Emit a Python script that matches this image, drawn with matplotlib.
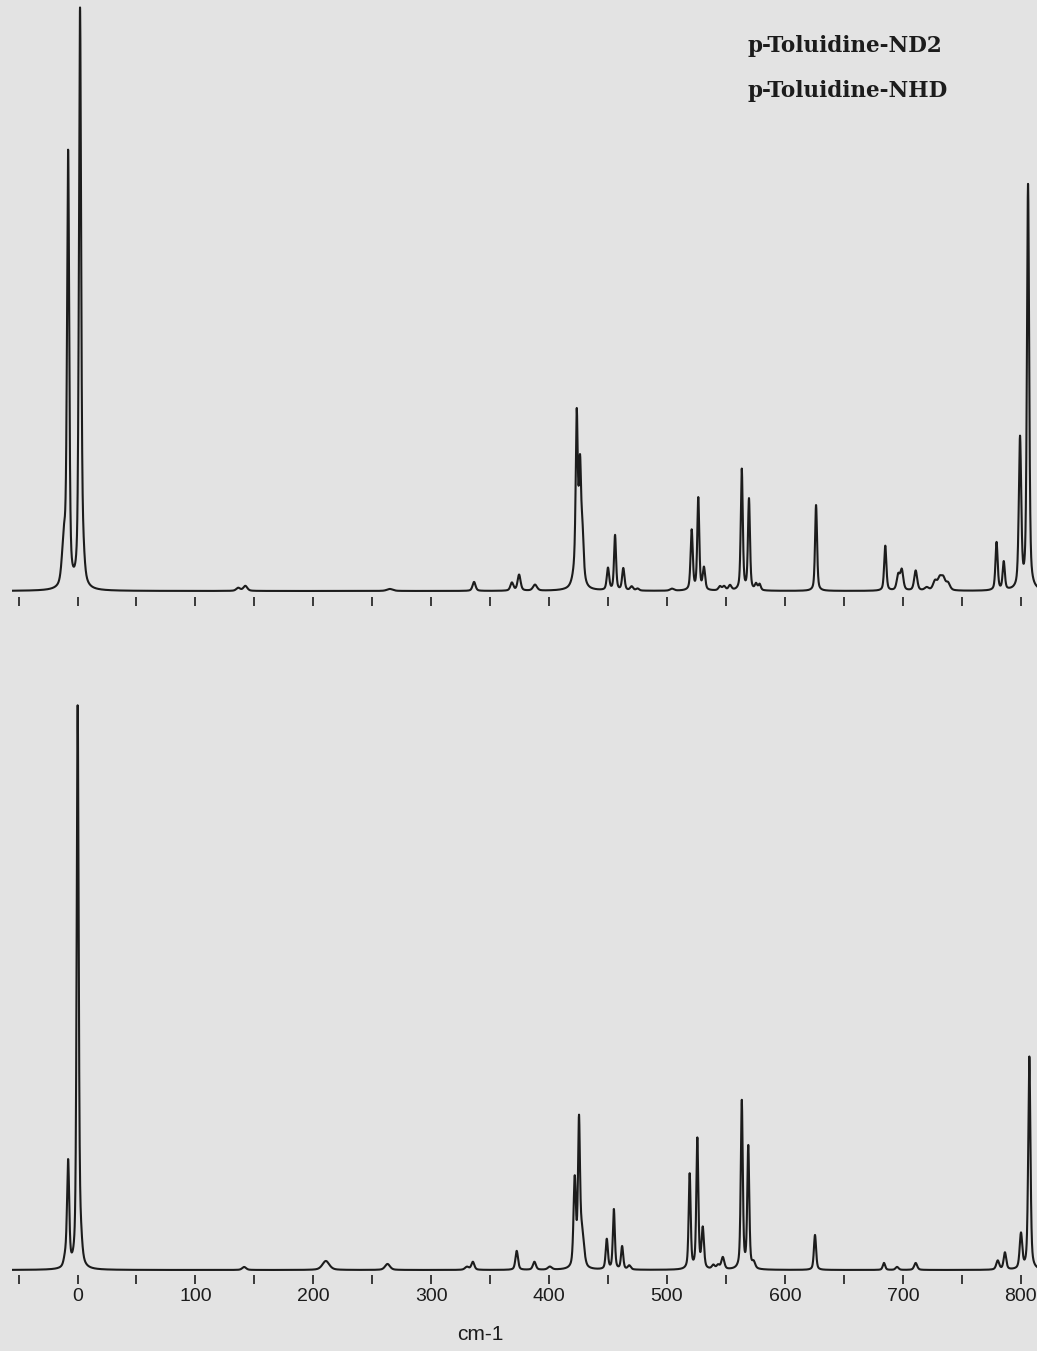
import numpy as np
import matplotlib
matplotlib.use("Agg")
import matplotlib.pyplot as plt

# ---- peak tables (position cm-1, height, half width) ----
nd2_pos = [-11.5, -8, 2.1, 4.6, 136.3, 142.3, 264.9, 336.3, 368.4, 374.5, 388.0,
           423.4, 424.7, 426.2, 428.2, 449.9, 455.9, 462.9, 470.0, 475.0, 504.2,
           520.9, 526.5, 531.3, 544.9, 548.4, 553.4, 563.4, 569.5, 575.5, 578.5, 626.4,
           685.1, 696.1, 699.1, 710.9, 720.2, 727.3, 731.3, 734.3, 738.3,
           779.5, 785.6, 799.4, 806.2]
nd2_height = [45, 430, 576, 22, 3, 5, 2, 9, 8, 16, 6,
              145, 35, 90, 40, 22, 55, 22, 4, 2, 2,
              60, 92, 22, 4, 4, 5, 121, 91, 6, 6, 86,
              45, 15, 20, 20, 3, 9, 11, 11, 7,
              48, 28, 150, 405]
nd2_width = [2.0, 1.1, 1.1, 1.5, 2, 2, 3, 1.5, 1.5, 1.5, 2,
             1.0, 3.5, 1.0, 1.2, 1.2, 1.0, 1.2, 1.5, 1.5, 2,
             1.1, 1.0, 1.2, 1.5, 1.5, 1.5, 1.0, 1.0, 1.2, 1.2, 1.0,
             1.1, 1.5, 1.5, 1.5, 2, 2, 2, 2, 2,
             1.1, 1.1, 1.2, 1.1]

nhd_pos = [-10.5, -8, 0.1, 2.6, 141.3, 210.6, 262.9, 330.3, 335.3, 372.5, 387.5, 400.6,
           421.7, 425.3, 427.8, 448.9, 454.9, 461.9, 468.0, 519.2, 525.7, 530.3,
           539.3, 543.3, 547.3, 563.4, 568.9, 573.5, 625.5, 684.0, 695.1, 710.9,
           780.5, 786.6, 800.2, 807.3]
nhd_height = [8, 105, 560, 20, 3, 9, 6, 3, 8, 19, 8, 3,
              88, 138, 35, 30, 60, 23, 4, 95, 130, 40,
              4, 4, 12, 168, 122, 6, 35, 7, 3, 7,
              9, 17, 35, 213]
nhd_width = [1.5, 1.1, 1.0, 1.5, 2, 3.5, 2.5, 2, 1.5, 1.3, 1.5, 2,
             1.2, 1.0, 2.0, 1.1, 1.0, 1.1, 1.5, 1.0, 1.0, 1.2,
             1.5, 1.5, 1.5, 1.0, 1.0, 1.5, 1.1, 1.2, 1.5, 1.5,
             1.5, 1.3, 1.3, 1.1]

labels = ["p-Toluidine-ND2", "p-Toluidine-NHD"]
major_ticks = list(range(0, 801, 100))
minor_ticks = list(range(-50, 801, 100))

BG = "#e3e3e3"
INK = "#1c1c1c"


def spectrum(x, pos, height, width, eta=0.5):
    # pseudo-Voigt line shape
    y = np.zeros_like(x)
    for p, h, w in zip(pos, height, width):
        d = (x - p) / w
        lor = 1.0 / (1.0 + d ** 2)
        gau = np.exp(-np.log(2) * d ** 2)
        y += h * (eta * lor + (1 - eta) * gau)
    return y


x = np.linspace(-56, 814, 9000)
y_top = spectrum(x, nd2_pos, nd2_height, nd2_width)
y_bot = spectrum(x, nhd_pos, nhd_height, nhd_width)

W, H = 1037, 1351
fig = plt.figure(figsize=(W / 100, H / 100), dpi=100)
fig.patch.set_facecolor(BG)

xlim = (-55.6, 813.8)

# top panel: baseline at y=591 px, ticks from 597 px
ax1 = fig.add_axes([12 / W, 1 - 597 / H, 1025 / W, 597 / H])
ax1.plot(x, y_top, color=INK, lw=1.5)
ax1.set_xlim(*xlim)
ax1.set_ylim(-6, 591)

# bottom panel: baseline at y=1270 px, ticks from 1275 px
ax2 = fig.add_axes([12 / W, 1 - 1275 / H, 1025 / W, 585 / H])
ax2.plot(x, y_bot, color=INK, lw=1.5)
ax2.set_xlim(*xlim)
ax2.set_ylim(-5, 580)

for ax in (ax1, ax2):
    ax.set_facecolor(BG)
    for s in ax.spines.values():
        s.set_visible(False)
    ax.set_yticks([])
    ax.set_xticks(major_ticks)
    ax.set_xticks(minor_ticks, minor=True)
    ax.tick_params(axis="x", which="both", direction="out", length=6.5,
                   width=1.2, color=INK)

ax1.tick_params(axis="x", which="major", labelbottom=False)
ax2.tick_params(axis="x", which="major", labelsize=14, pad=3, labelcolor=INK)
for t in ax2.get_xticklabels():
    t.set_fontfamily("Liberation Sans")

fig.text(480 / W, 1 - 1335 / H, "cm-1", ha="center", va="center",
         fontsize=15, family="Liberation Sans", color=INK)

fig.text(748 / W, 1 - 46 / H, labels[0], ha="left", va="center",
         fontsize=15.5, fontweight="bold", family="DejaVu Serif", color=INK)
fig.text(748 / W, 1 - 91 / H, labels[1], ha="left", va="center",
         fontsize=15.5, fontweight="bold", family="DejaVu Serif", color=INK)

fig.savefig("out.png", dpi=100, facecolor=BG)
